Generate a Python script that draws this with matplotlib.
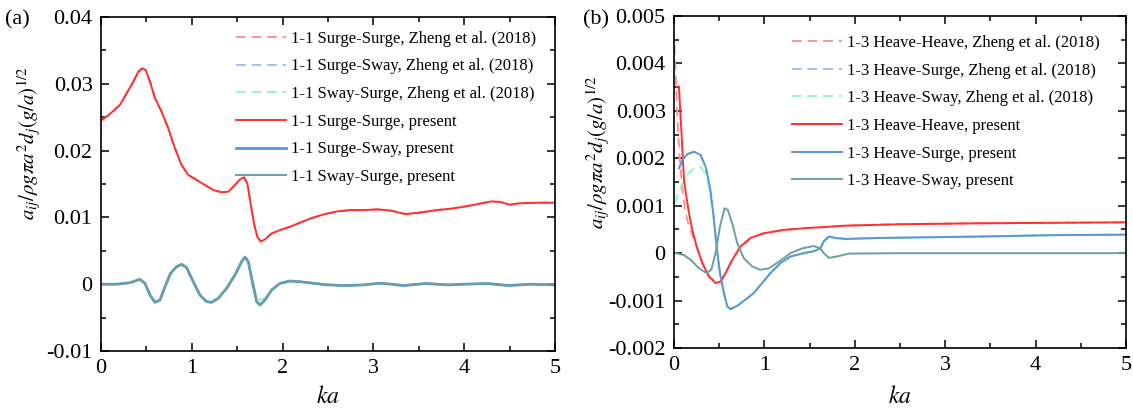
import matplotlib
matplotlib.use("Agg")
import matplotlib.pyplot as plt
from matplotlib.ticker import MultipleLocator, FuncFormatter

plt.rcParams['font.family'] = ['Liberation Serif', 'DejaVu Serif']
plt.rcParams['mathtext.fontset'] = 'stix'
plt.rcParams['axes.unicode_minus'] = False

# ---------------- Panel (a) data ----------------
ka_a_ss = [0.0, 0.007, 0.062, 0.136, 0.209, 0.283, 0.356, 0.411, 0.455, 0.492, 0.540, 0.595,
           0.668, 0.741, 0.815, 0.888, 0.962, 1.054, 1.145, 1.237, 1.329, 1.402, 1.476,
           1.531, 1.575, 1.612, 1.648, 1.685, 1.722, 1.759, 1.806, 1.88, 1.971, 2.081,
           2.191, 2.32, 2.467, 2.6, 2.75, 2.9, 3.05, 3.2, 3.35, 3.5, 3.7, 3.85, 4.0, 4.15,
           4.3, 4.4, 4.5, 4.6, 4.8, 5.0]
surge_surge_present = [0.02455, 0.02458, 0.02508, 0.02593, 0.02683, 0.02858, 0.03032, 0.03181,
                       0.03232, 0.03207, 0.03032, 0.02783, 0.02582, 0.02334, 0.02034, 0.01784,
                       0.01635, 0.0156, 0.01485, 0.0141, 0.01376, 0.01385, 0.01485, 0.0157,
                       0.016, 0.0151, 0.0121, 0.0091, 0.0071, 0.0064, 0.0067, 0.0076, 0.0081,
                       0.0086, 0.0092, 0.0099, 0.0105, 0.0109, 0.0111, 0.0111, 0.0112, 0.0110,
                       0.0105, 0.0107, 0.0111, 0.0113, 0.0116, 0.0120, 0.0124, 0.0123, 0.0119,
                       0.0121, 0.0122, 0.0122]
surge_surge_zheng = surge_surge_present

ka_a_sw = [0.0, 0.007, 0.173, 0.319, 0.429, 0.485, 0.540, 0.595, 0.650, 0.705, 0.767, 0.833,
           0.888, 0.943, 1.017, 1.090, 1.164, 1.219, 1.292, 1.384, 1.476, 1.549, 1.586,
           1.623, 1.671, 1.715, 1.751, 1.806, 1.88, 1.971, 2.081, 2.191, 2.32, 2.467, 2.67,
           2.9, 3.07, 3.2, 3.33, 3.58, 3.82, 4.0, 4.26, 4.49, 4.73, 5.0]
surge_sway_present = [0.0, 0.0, 0.0, 0.00022, 0.00073, 0.00013, -0.00162, -0.00271, -0.00237,
                      -0.00037, 0.00163, 0.00262, 0.00298, 0.00247, 0.00037, -0.00162,
                      -0.00262, -0.00271, -0.00211, -0.00062, 0.00138, 0.00337, 0.00407,
                      0.00337, 0.00013, -0.00262, -0.00312, -0.00237, -0.00087, 0.00013,
                      0.00048, 0.00037, 0.00018, -0.00007, -0.0002, -0.0001, 0.00015, 0.0,
                      -0.0002, 0.0001, -0.0001, 0.0, 0.0001, -0.0002, 0.0, -0.0001]
sway_surge_present = surge_sway_present
surge_sway_zheng = surge_sway_present
sway_surge_zheng = [0.0, 0.0, 0.0, 0.00022, 0.00073, 0.00013, -0.0015, -0.0026, -0.0023,
                    -0.0004, 0.0016, 0.0025, 0.0029, 0.0024, 0.00037, -0.0016,
                    -0.0026, -0.0027, -0.0021, -0.0006, 0.0014, 0.0033, 0.0039,
                    0.0033, 0.0002, -0.0020, -0.0024, -0.0021, -0.0008, 0.00013,
                    0.00048, 0.00037, 0.00018, -0.00007, -0.0002, -0.0001, 0.00015, 0.0,
                    -0.0002, 0.0001, -0.0001, 0.0, 0.0001, -0.0002, 0.0, -0.0001]

# ---------------- Panel (b) data ----------------
ka_hh_present = [0.03, 0.055, 0.066, 0.081, 0.110, 0.136, 0.166, 0.202, 0.250, 0.313, 0.386,
                 0.46, 0.515, 0.570, 0.644, 0.736, 0.846, 0.993, 1.214, 1.472, 1.656, 1.897,
                 2.5, 3.36, 4.2, 5.0]
heave_heave_present = [0.00351, 0.00351, 0.00309, 0.0026, 0.00154, 0.00119, 0.00084, 0.00049,
                       0.00014, -0.00021, -0.00049, -0.00063, -0.0006, -0.00042, -0.00014,
                       0.00014, 0.00032, 0.00042, 0.00049, 0.00053, 0.00055, 0.00058, 0.00061,
                       0.00063, 0.00064, 0.00065]
ka_hh_zheng = [0.004, 0.029, 0.044, 0.066, 0.092, 0.129, 0.166, 0.2, 0.250, 0.313, 0.386,
               0.46, 0.515, 0.570, 0.644, 0.736, 0.846, 0.993, 1.214, 1.472, 1.656, 1.897,
               2.5, 3.36, 4.2, 5.0]
heave_heave_zheng = [0.0044, 0.00323, 0.0026, 0.0019, 0.00133, 0.00084, 0.00056, 0.00039,
                     0.00014, -0.00021, -0.00049, -0.00063, -0.0006, -0.00042, -0.00014,
                     0.00014, 0.00032, 0.00042, 0.00049, 0.00053, 0.00055, 0.00058, 0.00061,
                     0.00063, 0.00064, 0.00065]

ka_hsu = [0.055, 0.092, 0.147, 0.221, 0.294, 0.35, 0.397, 0.434, 0.471, 0.508, 0.552, 0.589,
          0.625, 0.699, 0.791, 0.883, 0.975, 1.067, 1.177, 1.288, 1.435, 1.545, 1.619, 1.656,
          1.714, 1.787, 1.897, 2.26, 3.36, 4.2, 5.0]
heave_surge_present = [0.00179, 0.00196, 0.00209, 0.00214, 0.00207, 0.00182, 0.0014, 0.00084,
                       0.00014, -0.00042, -0.00084, -0.00112, -0.00118, -0.00111, -0.00098,
                       -0.00084, -0.00063, -0.00042, -0.00021, -0.00007, 0.0, 0.00004, 0.0001,
                       0.00025, 0.00035, 0.00032, 0.0003, 0.00032, 0.00035, 0.00038, 0.00039]
heave_surge_zheng = heave_surge_present

ka_hsw = [0.0, 0.018, 0.11, 0.184, 0.276, 0.36, 0.412, 0.46, 0.508, 0.559, 0.596, 0.644, 0.699,
          0.773, 0.865, 0.949, 1.049, 1.159, 1.288, 1.416, 1.545, 1.619, 1.656, 1.714, 1.824,
          1.934, 2.5, 3.36, 4.2, 5.0]
heave_sway_present = [0.0, 0.0, -0.00004, -0.00014, -0.00032, -0.00042, -0.00035, 0.0, 0.00056,
                      0.00095, 0.00091, 0.00063, 0.00021, -0.00011, -0.00028, -0.00035, -0.00032,
                      -0.00018, 0.0, 0.0001, 0.00015, 0.0001, 0.0, -0.0001, -0.00006, -0.00001,
                      0.0, 0.0, 0.0, 0.0]

ka_hsw_zheng = [0.003, 0.018, 0.074, 0.147, 0.221, 0.294, 0.35, 0.386, 0.415, 0.434, 0.471,
                0.508, 0.552, 0.589, 0.625, 0.699, 0.791, 0.883, 0.975, 1.067, 1.177, 1.288,
                1.435, 1.545, 1.619, 1.656, 1.714, 1.787, 1.897, 2.26, 3.36, 4.2, 5.0]
heave_sway_zheng = [0.00105, 0.00109, 0.0014, 0.00165, 0.00179, 0.00182, 0.00168, 0.0014,
                    0.00105, 0.00084, 0.00014, -0.00042, -0.00088, -0.00114, -0.00118,
                    -0.00111, -0.00098, -0.00084, -0.00063, -0.00042, -0.00021, -0.00007,
                    0.0, 0.00004, 0.0001, 0.00025, 0.00035, 0.00032, 0.0003, 0.00032,
                    0.00035, 0.00038, 0.00039]

labels_a = ['1-1 Surge-Surge, Zheng et al. (2018)', '1-1 Surge-Sway, Zheng et al. (2018)',
            '1-1 Sway-Surge, Zheng et al. (2018)', '1-1 Surge-Surge, present',
            '1-1 Surge-Sway, present', '1-1 Sway-Surge, present']
labels_b = ['1-3 Heave-Heave, Zheng et al. (2018)', '1-3 Heave-Surge, Zheng et al. (2018)',
            '1-3 Heave-Sway, Zheng et al. (2018)', '1-3 Heave-Heave, present',
            '1-3 Heave-Surge, present', '1-3 Heave-Sway, present']

c_red_d = '#ff9494'
c_blue_d = '#a3c1ea'
c_green_d = '#98f5c4'
c_red = '#ff3030'
c_blue = '#5a97d6'
c_teal = '#6e9f9f'

fig = plt.figure(figsize=(11.33, 4.09), dpi=100)
axA = fig.add_axes([0.0891, 0.1418, 0.4007, 0.8166])
axB = fig.add_axes([0.5949, 0.1491, 0.3990, 0.8117])

lw = 1.4
dash = (0, (5, 3))

# Panel (a)
axA.plot(ka_a_ss, surge_surge_zheng, color=c_red_d, lw=lw, ls=dash, label=labels_a[0])
axA.plot(ka_a_sw, surge_sway_zheng, color=c_blue_d, lw=lw, ls=dash, label=labels_a[1])
axA.plot(ka_a_sw, sway_surge_zheng, color=c_green_d, lw=lw, ls=dash, label=labels_a[2])
axA.plot(ka_a_ss, surge_surge_present, color=c_red, lw=lw, label=labels_a[3])
axA.plot(ka_a_sw, surge_sway_present, color=c_blue, lw=lw + 0.6, label=labels_a[4])
axA.plot(ka_a_sw, sway_surge_present, color=c_teal, lw=lw, label=labels_a[5])

# Panel (b)
axB.plot(ka_hh_zheng, heave_heave_zheng, color=c_red_d, lw=lw, ls=dash, label=labels_b[0])
axB.plot(ka_hsu, heave_surge_zheng, color=c_blue_d, lw=lw, ls=dash, label=labels_b[1])
axB.plot(ka_hsw_zheng, heave_sway_zheng, color=c_green_d, lw=lw, ls=dash, label=labels_b[2])
axB.plot(ka_hh_present, heave_heave_present, color=c_red, lw=lw, label=labels_b[3])
axB.plot(ka_hsu, heave_surge_present, color=c_blue, lw=lw, label=labels_b[4])
axB.plot(ka_hsw, heave_sway_present, color=c_teal, lw=lw, label=labels_b[5])

fmt = FuncFormatter(lambda v, p: ('%g' % round(v, 6)))
ylabel = r'$a_{ij}/\rho g\pi a^2 d_j(g/a)^{1/2}$'

for ax, ylim, ymaj, ymin in [(axA, (-0.01, 0.04), 0.01, 0.005),
                             (axB, (-0.002, 0.005), 0.001, 0.0005)]:
    ax.set_xlim(0, 5)
    ax.set_ylim(*ylim)
    ax.xaxis.set_major_locator(MultipleLocator(1))
    ax.xaxis.set_minor_locator(MultipleLocator(0.5))
    ax.yaxis.set_major_locator(MultipleLocator(ymaj))
    ax.yaxis.set_minor_locator(MultipleLocator(ymin))
    ax.yaxis.set_major_formatter(fmt)
    ax.xaxis.set_major_formatter(fmt)
    ax.tick_params(which='both', direction='in', top=True, right=True, labelsize=16,
                   width=1.1)
    ax.tick_params(which='major', length=6, pad=6)
    ax.tick_params(which='minor', length=3.5)
    for s in ax.spines.values():
        s.set_linewidth(1.2)
    ax.set_xlabel(r'$ka$', fontsize=17)
    ax.set_ylabel(ylabel, fontsize=15)

axA.xaxis.set_label_coords(0.5, -0.105)
axB.xaxis.set_label_coords(0.5, -0.115)
axA.yaxis.set_label_coords(-0.128, 0.623)
axB.yaxis.set_label_coords(-0.137, 0.59)

legkw = dict(frameon=False, fontsize=12, handlelength=3.0, handletextpad=0.3,
             labelspacing=0.70, borderpad=0, borderaxespad=0, loc='upper left')
axA.legend(bbox_to_anchor=(0.297, 0.959), **legkw)
axB.legend(bbox_to_anchor=(0.261, 0.943), **legkw)

fig.text(5 / 1133, 1 - 20 / 409, '(a)', fontsize=16, va='center', ha='left')
fig.text(583 / 1133, 1 - 20 / 409, '(b)', fontsize=16, va='center', ha='left')

fig.savefig('out.png', dpi=100)
